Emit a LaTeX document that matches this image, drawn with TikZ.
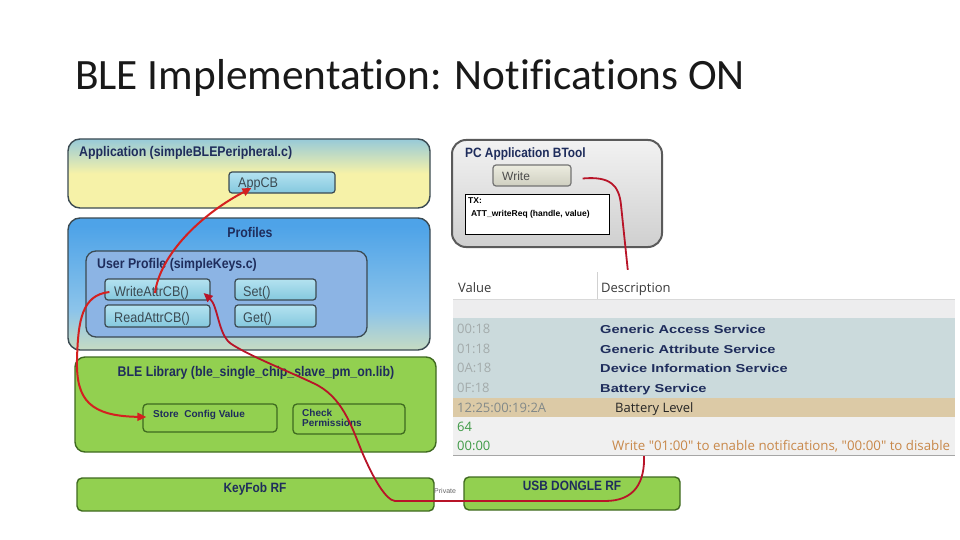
\documentclass[tikz,border=0pt]{standalone}
\usepackage{fontspec}
\setmainfont{Liberation Sans}
\newfontfamily\titlefont[Ligatures=NoCommon]{Carlito}
\newfontfamily\boxfont[FakeStretch=0.88]{Liberation Sans}
\newfontfamily\btnfont[FakeStretch=0.9]{Liberation Sans}
\newfontfamily\tabfont{Open Sans}
\newfontfamily\svcfont[FakeStretch=1.27]{Liberation Sans}
\usetikzlibrary{arrows.meta,calc}
\definecolor{appblu}{HTML}{6DB8EE}
\definecolor{appyel}{HTML}{F6F2A8}
\definecolor{profblu}{HTML}{4EA3E8}
\definecolor{profmid}{HTML}{8CC4EA}
\definecolor{profyel}{HTML}{EEEBA8}
\definecolor{upfill}{HTML}{8CB4E4}
\definecolor{btntop}{HTML}{B4E2F0}
\definecolor{btnbot}{HTML}{84C8DE}
\definecolor{libgreen}{HTML}{92D050}
\definecolor{greenedge}{HTML}{3F6A20}
\definecolor{boxedge}{HTML}{3B4A52}
\definecolor{bttop}{HTML}{F2F2F2}
\definecolor{btbot}{HTML}{CFCFCF}
\definecolor{btedge}{HTML}{5A5A5A}
\definecolor{wrtop}{HTML}{ECECE0}
\definecolor{wrbot}{HTML}{CFCFC0}
\definecolor{navy}{HTML}{1F2D5C}
\definecolor{flowred}{HTML}{D42020}
\definecolor{darkflow}{HTML}{B81428}
\definecolor{teal}{HTML}{CBDADC}
\definecolor{tan}{HTML}{DCCAA6}
\definecolor{band}{HTML}{EDEDEE}
\definecolor{lowrows}{HTML}{F0F0F0}
\definecolor{grayval}{HTML}{A3ABAB}
\definecolor{valgreen}{HTML}{3F9A46}
\definecolor{hintorange}{HTML}{C8884A}
\definecolor{headtext}{HTML}{3A3A3A}
\pgfdeclareverticalshading{appshade}{100bp}{color(0bp)=(appyel); color(50bp)=(appyel); color(86bp)=(appblu); color(100bp)=(appblu)}
\pgfdeclareverticalshading{profshade}{100bp}{color(0bp)=(profyel); color(15bp)=(profyel); color(40bp)=(profmid); color(72bp)=(profblu); color(100bp)=(profblu)}
\tikzset{redtip/.tip={Triangle[length=9pt,width=8pt]}}
\begin{document}
\begin{tikzpicture}[x=1pt,y=-1pt,
  bigbox/.style={draw=boxedge, line width=1.4pt, rounded corners=12pt, inner sep=0pt},
  greenbox/.style={draw=greenedge, line width=1.4pt, fill=libgreen, rounded corners=10pt, inner sep=0pt},
  smallgreen/.style={draw=greenedge, line width=1.3pt, fill=libgreen, rounded corners=4pt, inner sep=0pt},
  btn/.style={draw=boxedge, line width=1.2pt, top color=btntop, bottom color=btnbot, rounded corners=3pt, inner sep=0pt},
  boxtitle/.style={inner sep=0pt, text=navy, font=\boxfont\bfseries\fontsize{14}{16}\selectfont},
  btntext/.style={inner sep=0pt, text=boxedge, font=\btnfont\fontsize{14}{16}\selectfont},
  greentext/.style={inner sep=0pt, text=navy, font=\fontsize{10}{10}\selectfont\bfseries, align=left},
  tabtext/.style={inner sep=0pt, anchor=base west, font=\tabfont\fontsize{13}{15}\selectfont},
  svctext/.style={inner sep=0pt, anchor=base west, text=navy, font=\svcfont\bfseries\fontsize{11.5}{13}\selectfont},
  flow/.style={draw=flowred, line width=2pt, -redtip}
]
\useasboundingbox (0,0) rectangle (960,540);
\fill[white] (0,0) rectangle (960,540);

\node[inner sep=0pt, anchor=base west, text=black!90, font=\titlefont\fontsize{43.3}{48}\selectfont] (title) at (75,90) {BLE Implementation: Notifications ON};

% Application
\node[bigbox, shade, shading=appshade, minimum width=362pt, minimum height=69pt] (app) at (249,173.5) {};
\node[boxtitle, anchor=base west] (apptitle) at (79,157) {Application (simpleBLEPeripheral.c)};
\node[btn, minimum width=106pt, minimum height=21pt] (appcb) at (282,182.5) {};
\node[btntext, anchor=base west] (appcbt) at (238,187) {AppCB};

% Profiles
\node[bigbox, shade, shading=profshade, minimum width=362pt, minimum height=132pt] (prof) at (249,284) {};
\node[boxtitle, anchor=base] (proftitle) at (250,237) {Profiles};
\node[draw=boxedge, line width=1.3pt, fill=upfill, rounded corners=10pt, minimum width=281pt, minimum height=86pt, inner sep=0pt] (up) at (226.5,294) {};
\node[boxtitle, anchor=base west] (uptitle) at (97,268) {User Profile (simpleKeys.c)};
\node[btn, minimum width=105pt, minimum height=21pt] (wcb) at (157.5,289.5) {};
\node[btntext, anchor=base west] (wcbt) at (114,296) {WriteAttrCB()};
\node[btn, minimum width=81pt, minimum height=21pt] (set) at (275.5,289.5) {};
\node[btntext, anchor=base west] (sett) at (243,296) {Set()};
\node[btn, minimum width=105pt, minimum height=22pt] (rcb) at (157.5,316) {};
\node[btntext, anchor=base west] (rcbt) at (114,322) {ReadAttrCB()};
\node[btn, minimum width=81pt, minimum height=22pt] (get) at (275.5,316) {};
\node[btntext, anchor=base west] (gett) at (243,322) {Get()};

% BLE library
\node[greenbox, minimum width=361pt, minimum height=95pt] (ble) at (255.5,404.5) {};
\node[boxtitle, anchor=base] (bletitle) at (256,376) {BLE Library (ble\_single\_chip\_slave\_pm\_on.lib)};
\node[smallgreen, minimum width=134pt, minimum height=28pt] (store) at (210,418) {};
\node[greentext, anchor=base west] (storet) at (153,417) {Store\ \ Config Value};
\node[smallgreen, minimum width=112pt, minimum height=30pt] (check) at (349,419) {};
\node[greentext, anchor=north west, font=\fontsize{10}{10}\selectfont\bfseries] (checkt) at (302,409.5) {Check\\Permissions};

% RF boxes
\node[greenbox, rounded corners=5pt, minimum width=357pt, minimum height=33pt] (keyfob) at (255.5,494.5) {};
\node[boxtitle, anchor=base, font=\boxfont\bfseries\fontsize{13.5}{15}\selectfont] (keyfobt) at (255,492) {KeyFob RF};
\node[greenbox, rounded corners=5pt, minimum width=216pt, minimum height=33pt] (usb) at (572,493.5) {};
\node[boxtitle, anchor=base, font=\boxfont\bfseries\fontsize{13.5}{15}\selectfont] (usbt) at (572,490) {USB DONGLE RF};
\node[inner sep=0pt, anchor=base west, text=black!60, font=\fontsize{7}{8}\selectfont] (priv) at (434,493) {Private};

% BTool
\node[draw=btedge, line width=2pt, top color=bttop, bottom color=btbot, rounded corners=14pt, minimum width=210pt, minimum height=107pt, inner sep=0pt] (btool) at (557,193.5) {};
\node[boxtitle, anchor=base west, font=\boxfont\bfseries\fontsize{13.5}{15}\selectfont] (btoolt) at (465,158) {PC Application BTool};
\node[draw=black!55, line width=1.2pt, top color=wrtop, bottom color=wrbot, rounded corners=3pt, minimum width=78pt, minimum height=21pt, inner sep=0pt] (write) at (532,175.5) {};
\node[inner sep=0pt, anchor=base west, text=black!70, font=\fontsize{12}{14}\selectfont] (writet) at (502,180) {Write};
\node[draw=black, line width=0.8pt, fill=white, minimum width=144pt, minimum height=40pt, inner sep=0pt] (tx) at (537,214) {};
\node[inner sep=0pt, anchor=base west, font=\fontsize{8.5}{10}\selectfont\bfseries] (txt1) at (468,204) {TX:};
\node[inner sep=0pt, anchor=base west, font=\fontsize{8.5}{10}\selectfont\bfseries] (txt2) at (471,216) {ATT\_writeReq (handle, value)};

% red flows
\coordinate (c1s) at ($(wcb.center)+(-2.5,3.5)$);
\coordinate (c1e) at ($(appcb.west)+(23,5.5)$);
\draw[flow] (c1s) .. controls (160,255) and (200,215) .. (c1e);

\coordinate (c2s) at ($(wcb.west)+(5,2.5)$);
\coordinate (c2e) at ($(store.west)+(4,-1)$);
\draw[flow] (c2s) .. controls (82,295) and (78,320) .. (77,360) .. controls (76,400) and (90,416) .. (c2e);

\coordinate (c3s) at ($(write.east)+(11,3)$);
\coordinate (c3e) at ($(wcb.east)+(-7,3.5)$);
\draw[flow, draw=darkflow, line width=1.8pt] (c3s) .. controls (610,176) and (619,185) .. (621,205) -- (628,272) -- (644,455)
  .. controls (645,482) and (635,501) .. (605,501) -- (395,501)
  .. controls (386,500) and (374,480) .. (362,452)
  .. controls (351,425) and (342,396) .. (313,383)
  .. controls (290,372) and (245,354) .. (230,343)
  .. controls (218,333) and (218,306) .. (c3e);

% table
\fill[white] (453,270) rectangle (955,300);
\draw[black!18, line width=0.8pt] (597,272) -- (597,299);
\draw[black!15, line width=0.8pt] (453,299.5) -- (955,299.5);
\fill[band] (453,300) rectangle (955,318);
\fill[teal] (453,318) rectangle (955,398);
\fill[tan] (453,398) rectangle (955,417);
\fill[lowrows] (453,417) rectangle (955,455);
\draw[black!35, line width=1pt] (453,455.5) -- (955,455.5);
\node[tabtext, text=headtext] (hv) at (458,292) {Value};
\node[tabtext, text=headtext] (hd) at (601,292) {Description};
\node[tabtext, text=grayval] (v1) at (457,333) {00:18};
\node[tabtext, text=grayval] (v2) at (457,353) {01:18};
\node[tabtext, text=grayval] (v3) at (457,372) {0A:18};
\node[tabtext, text=grayval] (v4) at (457,392) {0F:18};
\node[svctext] (d1) at (600,333) {Generic Access Service};
\node[svctext] (d2) at (600,353) {Generic Attribute Service};
\node[svctext] (d3) at (600,372) {Device Information Service};
\node[svctext] (d4) at (600,392) {Battery Service};
\node[tabtext, text=grayval!80!black] (v5) at (457,412) {12:25:00:19:2A};
\node[tabtext, text=black!85] (d5) at (615,412) {Battery Level};
\node[tabtext, text=valgreen] (v6) at (457,431) {64};
\node[tabtext, text=valgreen] (v7) at (457,450) {00:00};
\node[tabtext, text=hintorange, font=\tabfont\fontsize{13.3}{15}\selectfont] (d7) at (612,450) {Write "01:00" to enable notifications, "00:00" to disable};
\end{tikzpicture}
\end{document}
